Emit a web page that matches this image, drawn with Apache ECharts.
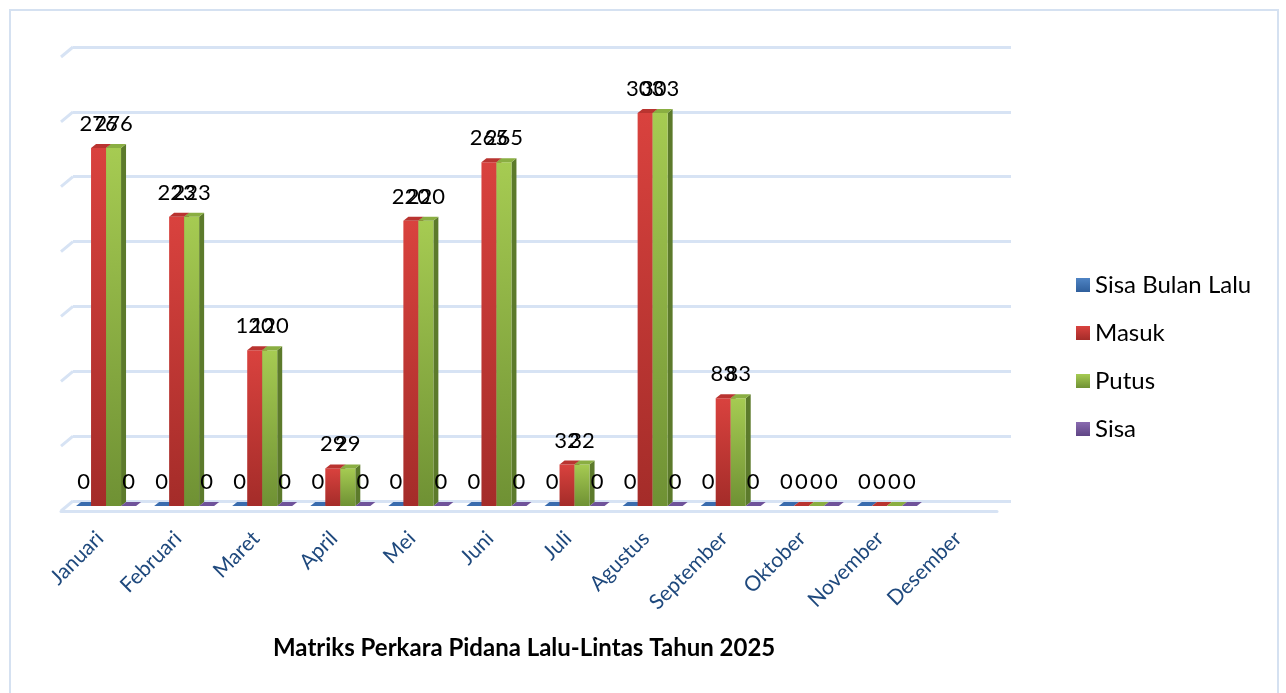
<!DOCTYPE html>
<html>
<head>
<meta charset="utf-8">
<script src="https://cdn.jsdelivr.net/npm/echarts@6/dist/echarts.min.js"></script>
<style>
  html, body { margin: 0; padding: 0; background: #fff; }
  #main { width: 1286px; height: 693px; }
</style>
</head>
<body>
<div id="main"></div>
<script>
// data
const categories = ['Januari', 'Februari', 'Maret', 'April', 'Mei', 'Juni', 'Juli',
    'Agustus', 'September', 'Oktober', 'November', 'Desember'];
const sisaBulanLalu = [0, 0, 0, 0, 0, 0, 0, 0, 0, 0, 0, null];
const masuk = [276, 223, 120, 29, 220, 265, 32, 303, 83, 0, 0, null];
const putus = [276, 223, 120, 29, 220, 265, 32, 303, 83, 0, 0, null];
const sisa = [0, 0, 0, 0, 0, 0, 0, 0, 0, 0, 0, null];
const gridTicks = [0, 50, 100, 150, 200, 250, 300, 350];

const FONT = 'Lato, "Open Sans", sans-serif';
const GRID_COLOR = '#D7E3F4';
const BW = 15;           // bar front width
const DX = 5, DY = 4;    // bar depth

const grad = (a, b) => new echarts.graphic.LinearGradient(0, 0, 0, 1, [
    { offset: 0, color: a }, { offset: 1, color: b }
]);

const seriesDefs = [
    { name: 'Sisa Bulan Lalu', data: sisaBulanLalu, front: ['#4F84C4', '#2F5F9C'], top: '#3A6CAE', side: '#264F85' },
    { name: 'Masuk', data: masuk, front: ['#D9423E', '#A42C29'], top: '#B93430', side: '#8E2421' },
    { name: 'Putus', data: putus, front: ['#A6CB52', '#6F9134'], top: '#8AAE42', side: '#5C7A2B' },
    { name: 'Sisa', data: sisa, front: ['#8A6BB0', '#5F4585'], top: '#6F539A', side: '#4E3870' }
];

const box3d = (idx, def) => (params, api) => {
    const v = api.value(1);
    if (v == null || isNaN(v)) return;
    const base = api.coord([api.value(0), 0]);
    const top = api.coord([api.value(0), v]);
    const x = base[0] + (idx - 2) * BW;
    const yT = top[1], yB = base[1];
    return {
        type: 'group',
        children: [
            { type: 'polygon', shape: { points: [[x + BW, yT], [x + BW + DX, yT - DY], [x + BW + DX, yB - DY], [x + BW, yB]] },
              style: { fill: def.side } },
            { type: 'rect', shape: { x: x, y: yT, width: BW, height: yB - yT },
              style: { fill: grad(def.front[0], def.front[1]) } },
            { type: 'polygon', shape: { points: [[x, yT], [x + DX, yT - DY], [x + BW + DX, yT - DY], [x + BW, yT]] },
              style: { fill: def.top } },
            { type: 'text', z2: 100, style: { text: String(v), x: x + BW / 2, y: yT - 13, align: 'center', verticalAlign: 'bottom',
              fontSize: 22, fontFamily: FONT, fill: '#000' } }
        ]
    };
};

const barSeries = seriesDefs.map((def, i) => ({
    name: def.name,
    type: 'custom',
    xAxisIndex: 0,
    yAxisIndex: 0,
    z: 10,
    itemStyle: { color: grad(def.front[0], def.front[1]) },
    renderItem: box3d(i, def),
    encode: { x: 0, y: 1 },
    data: def.data.map((v, k) => [k, v == null ? '-' : v])
}));

// left slanted ends of the back-wall gridlines
const slantSeries = {
    type: 'custom',
    xAxisIndex: 1,
    yAxisIndex: 1,
    silent: true,
    z: 1,
    renderItem: (params, api) => {
        const p = api.coord([0, api.value(0)]);
        const x0 = params.coordSys.x;
        return {
            type: 'line',
            shape: { x1: x0, y1: p[1], x2: x0 - 12, y2: p[1] + 10 },
            style: { stroke: GRID_COLOR, lineWidth: 3 }
        };
    },
    encode: { y: 0 },
    data: gridTicks.map(t => [t])
};

const chart = echarts.init(document.getElementById('main'));
chart.setOption({
    animation: false,
    backgroundColor: '#fff',
    graphic: [
        { type: 'rect', shape: { x: 10, y: 10, width: 1268, height: 690 },
          style: { fill: 'none', stroke: '#D5E1F1', lineWidth: 2 }, z: -10 }
    ],
    title: {
        text: 'Matriks Perkara Pidana Lalu-Lintas Tahun 2025',
        top: 631,
        left: 268,
        textStyle: { fontFamily: FONT, fontSize: 24, fontWeight: 'bold', color: '#000' }
    },
    legend: {
        orient: 'vertical',
        left: 1071,
        top: 268,
        itemWidth: 14,
        itemHeight: 14,
        itemGap: 24,
        icon: 'rect',
        data: seriesDefs.map(d => d.name),
        textStyle: { fontFamily: FONT, fontSize: 24, color: '#000', lineHeight: 24 }
    },
    grid: [
        { left: 67, width: 937, top: 52, bottom: 693 - 506 },   // bars (mid depth)
        { left: 73, width: 938, top: 47, bottom: 693 - 501 },   // back wall
        { left: 61, width: 936, top: 57, bottom: 693 - 511 }    // front floor edge
    ],
    xAxis: [
        { type: 'category', gridIndex: 0, data: categories, show: false },
        { type: 'category', gridIndex: 1, data: categories, show: false },
        { type: 'category', gridIndex: 2, data: categories,
          axisLine: { lineStyle: { color: GRID_COLOR, width: 3 } },
          axisTick: { length: 6, lineStyle: { color: GRID_COLOR, width: 2 } },
          axisLabel: { rotate: 45, margin: 24, fontFamily: FONT, fontSize: 21, color: '#1F497D' } }
    ],
    yAxis: [
        { type: 'value', gridIndex: 0, min: 0, max: 350, interval: 50, show: false },
        { type: 'value', gridIndex: 1, min: 0, max: 350, interval: 50,
          axisLine: { show: false }, axisTick: { show: false }, axisLabel: { show: false },
          splitLine: { lineStyle: { color: GRID_COLOR, width: 3 } } },
        { type: 'value', gridIndex: 2, min: 0, max: 350, interval: 50, show: false }
    ],
    series: [slantSeries].concat(barSeries)
});
</script>
</body>
</html>
